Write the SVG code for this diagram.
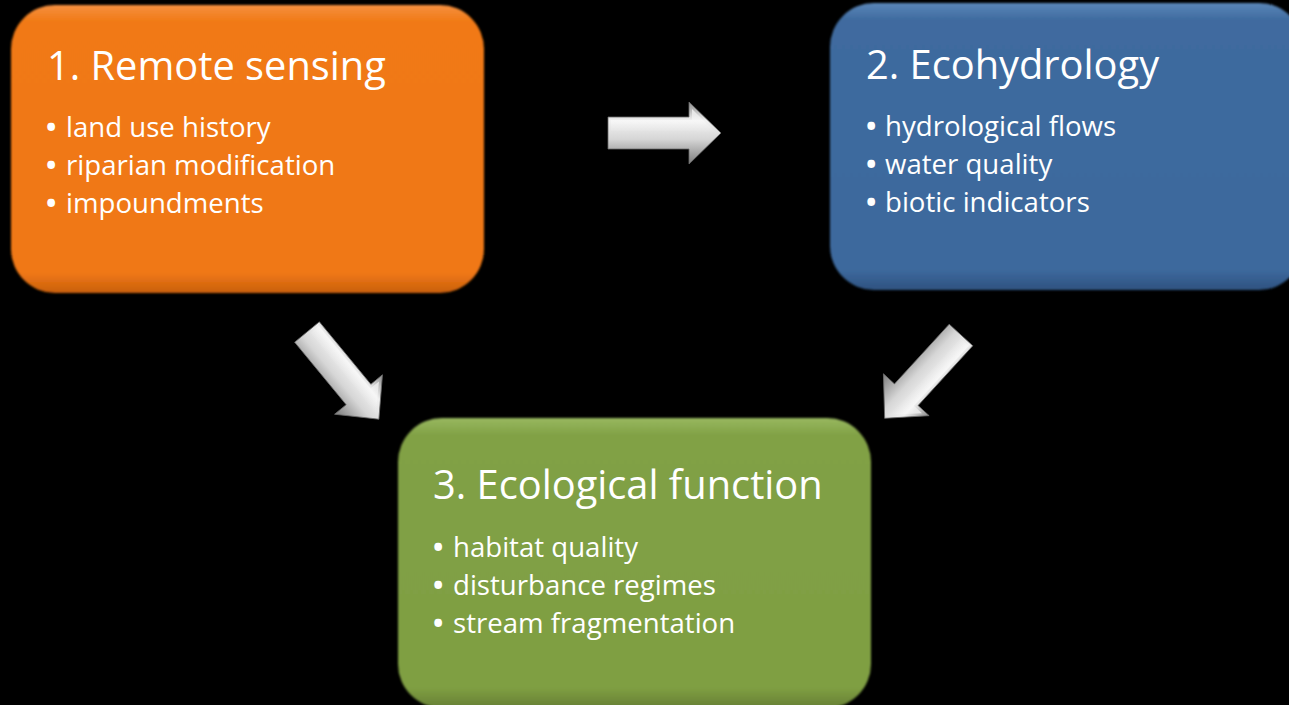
<svg xmlns="http://www.w3.org/2000/svg" width="1289" height="705" viewBox="0 0 1289 705">
<style>
.title{font-family:"Open Sans","Noto Sans",sans-serif;font-size:39.8px;fill:#fff}
.item{font-family:"Open Sans","Noto Sans",sans-serif;font-size:27.6px;fill:#fff}
.bul{font-weight:bold}
.arrow{fill:url(#gArrow);stroke:#6a6a6a;stroke-width:0.8}
.arrowhi{fill:url(#gArrowHi)}
</style>
<defs>
<linearGradient id="gOrange" x1="0" y1="0" x2="0" y2="1">
<stop offset="0" stop-color="#F59040"/><stop offset="0.06" stop-color="#F17914"/><stop offset="0.93" stop-color="#F07813"/><stop offset="1" stop-color="#C86010"/>
</linearGradient>
<linearGradient id="gBlue" x1="0" y1="0" x2="0" y2="1">
<stop offset="0" stop-color="#5A86B8"/><stop offset="0.06" stop-color="#3F6B9F"/><stop offset="0.93" stop-color="#3D699D"/><stop offset="1" stop-color="#2E5280"/>
</linearGradient>
<linearGradient id="gGreen" x1="0" y1="0" x2="0" y2="1">
<stop offset="0" stop-color="#98B860"/><stop offset="0.06" stop-color="#81A145"/><stop offset="0.93" stop-color="#7F9F43"/><stop offset="1" stop-color="#667F34"/>
</linearGradient>
<linearGradient id="gArrow" x1="0" y1="0" x2="0" y2="1">
<stop offset="0" stop-color="#8a8a8a"/><stop offset="0.3" stop-color="#f2f2f2"/><stop offset="0.6" stop-color="#d6d6d6"/><stop offset="1" stop-color="#7c7c7c"/>
</linearGradient>
<linearGradient id="gArrowHi" x1="0" y1="0" x2="0" y2="1">
<stop offset="0" stop-color="#ffffff" stop-opacity="0.7"/><stop offset="1" stop-color="#ffffff" stop-opacity="0"/>
</linearGradient>
<filter id="soft" x="-5%" y="-5%" width="110%" height="110%"><feGaussianBlur stdDeviation="1.2"/></filter>
<path id="arrowShape" d="M0,-16 L81,-16 L81,-31 L113,0 L81,31 L81,16 L0,16 Z"/>
</defs>
<rect width="1289" height="705" fill="#000"/>

<g id="connectors">
<g transform="translate(608,133)">
<use href="#arrowShape" class="arrow"/>
<path d="M3,-13 L84,-13 L84,-24 L108,0 L84,-2 L3,-2 Z" class="arrowhi"/>
</g>
<g transform="translate(307,332) rotate(50.5)">
<use href="#arrowShape" class="arrow"/>
<path d="M3,-13 L84,-13 L84,-24 L108,0 L84,-2 L3,-2 Z" class="arrowhi"/>
</g>
<g transform="translate(961,335) rotate(132.5)">
<use href="#arrowShape" class="arrow"/>
<path d="M3,-13 L84,-13 L84,-24 L108,0 L84,-2 L3,-2 Z" class="arrowhi"/>
</g>
</g>

<g id="node1">
<rect x="11" y="5" width="473" height="288" rx="44" ry="44" fill="url(#gOrange)" filter="url(#soft)"/>
<text class="title" x="47" y="80">1. Remote sensing</text>
<text class="item" y="137"><tspan class="bul" x="46">•</tspan><tspan x="66">land use history</tspan></text>
<text class="item" y="175"><tspan class="bul" x="46">•</tspan><tspan x="66">riparian modification</tspan></text>
<text class="item" y="213"><tspan class="bul" x="46">•</tspan><tspan x="66">impoundments</tspan></text>
</g>

<g id="node2">
<rect x="830" y="3" width="473" height="287" rx="44" ry="44" fill="url(#gBlue)" filter="url(#soft)"/>
<text class="title" x="866" y="79">2. Ecohydrology</text>
<text class="item" y="136"><tspan class="bul" x="866">•</tspan><tspan x="885">hydrological flows</tspan></text>
<text class="item" y="174"><tspan class="bul" x="866">•</tspan><tspan x="885">water quality</tspan></text>
<text class="item" y="212"><tspan class="bul" x="866">•</tspan><tspan x="885">biotic indicators</tspan></text>
</g>

<g id="node3">
<rect x="398" y="418" width="473" height="290" rx="44" ry="44" fill="url(#gGreen)" filter="url(#soft)"/>
<text class="title" x="433" y="499">3. Ecological function</text>
<text class="item" y="557"><tspan class="bul" x="433">•</tspan><tspan x="453">habitat quality</tspan></text>
<text class="item" y="595"><tspan class="bul" x="433">•</tspan><tspan x="453">disturbance regimes</tspan></text>
<text class="item" y="633"><tspan class="bul" x="433">•</tspan><tspan x="453">stream fragmentation</tspan></text>
</g>
</svg>
